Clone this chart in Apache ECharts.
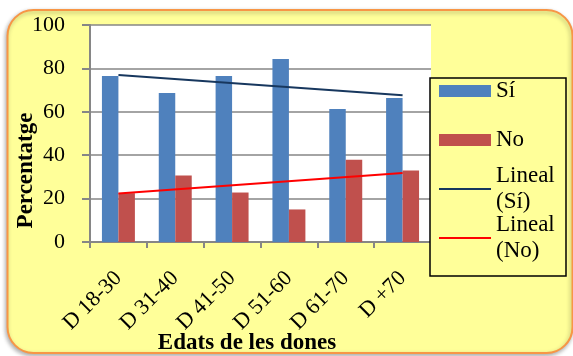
<!DOCTYPE html>
<html>
<head>
<meta charset="utf-8">
<script src="https://cdn.jsdelivr.net/npm/echarts@6/dist/echarts.min.js"></script>
<style>
html,body{margin:0;padding:0;background:#fff;}
#c{width:573px;height:356px;}
</style>
</head>
<body>
<div id="c"></div>
<script>
var categories = ['D 18-30', 'D 31-40', 'D 41-50', 'D 51-60', 'D 61-70', 'D +70'];
var siValues = [76.5, 68.7, 76.5, 84.3, 61.3, 66.4];
var noValues = [22.5, 30.6, 22.8, 15.0, 37.9, 32.9];
var trendSi = [77.0, null, null, null, null, 67.6];
var trendNo = [22.3, null, null, null, null, 31.8];
var yTicks = [0, 20, 40, 60, 80, 100];

var FONT = '"Liberation Serif", "Times New Roman", serif';
var LINE_ICON = 'path://M0,0 H52 V2 H0 Z';
var chart = echarts.init(document.getElementById('c'), null, {renderer: 'canvas'});
chart.setOption({
  animation: false,
  backgroundColor: '#ffffff',
  graphic: [
    {type: 'rect', z: -10, shape: {x: 7.5, y: 10, width: 565, height: 343, r: 26},
     style: {fill: '#FFFF99', stroke: '#F79646', lineWidth: 2,
             shadowBlur: 4, shadowOffsetX: -1, shadowOffsetY: 2, shadowColor: 'rgba(0,0,0,0.3)'}},
    {type: 'rect', z: 1, shape: {x: 430, y: 78, width: 136, height: 198},
     style: {fill: '#FFFF99', stroke: '#000', lineWidth: 1.5}}
  ],
  grid: {left: 90, top: 25, right: 142, bottom: 114, show: true, backgroundColor: '#ffffff',
         borderWidth: 0, containLabel: false, outerBoundsMode: 'none'},
  legend: {
    orient: 'vertical', left: 439, top: 52, padding: 0, itemGap: -29,
    itemWidth: 52, itemHeight: 12,
    textStyle: {fontFamily: FONT, fontSize: 23, lineHeight: 26, color: '#000'},
    formatter: function (n) { return n.replace(' (', '\n('); },
    data: [
      {name: 'Sí', icon: 'rect', textStyle: {padding: [26, 0, 26, 0]}},
      {name: 'No', icon: 'rect', textStyle: {padding: [26, 0, 26, 0]}},
      {name: 'Lineal (Sí)', icon: LINE_ICON, textStyle: {padding: [26, 0, 0, 0]}},
      {name: 'Lineal (No)', icon: LINE_ICON, textStyle: {padding: [26, 0, 0, 0]}}
    ]
  },
  xAxis: {
    type: 'category', data: categories,
    name: 'Edats de les dones', nameLocation: 'middle', nameGap: 90, nameMoveOverlap: false,
    nameTextStyle: {fontFamily: FONT, fontSize: 23, fontWeight: 'bold', color: '#000', padding: [0, 27, 0, 0]},
    axisLine: {lineStyle: {color: '#868686', width: 2}},
    axisTick: {show: true, length: 6, lineStyle: {color: '#868686', width: 2}},
    axisLabel: {rotate: 45, margin: 33, fontFamily: FONT, fontSize: 22, color: '#000'}
  },
  yAxis: {
    type: 'value', min: 0, max: 100, interval: 20,
    name: 'Percentatge', nameLocation: 'middle', nameRotate: 90, nameGap: 52, nameMoveOverlap: false,
    nameTextStyle: {fontFamily: FONT, fontSize: 23, fontWeight: 'bold', color: '#000', padding: [0, 74, 0, 0]},
    axisLine: {show: true, lineStyle: {color: '#868686', width: 2}},
    axisTick: {show: true, length: 8, lineStyle: {color: '#868686', width: 2}},
    axisLabel: {margin: 25, fontFamily: FONT, fontSize: 22, color: '#000',
      formatter: function (v) { return yTicks.indexOf(v) >= 0 ? String(v) : ''; }},
    splitLine: {show: true, lineStyle: {color: '#868686', width: 1.5}}
  },
  series: [
    {name: 'Sí', type: 'bar', data: siValues, barGap: '0%', barCategoryGap: '42%',
     itemStyle: {color: '#4F81BD'}},
    {name: 'No', type: 'bar', data: noValues, barGap: '0%', barCategoryGap: '42%',
     itemStyle: {color: '#C0504D'}},
    {name: 'Lineal (Sí)', type: 'line', data: trendSi, connectNulls: true, symbol: 'none',
     lineStyle: {color: '#17375E', width: 2}, itemStyle: {color: '#17375E'}, z: 5},
    {name: 'Lineal (No)', type: 'line', data: trendNo, connectNulls: true, symbol: 'none',
     lineStyle: {color: '#FF0000', width: 2}, itemStyle: {color: '#FF0000'}, z: 5}
  ]
});
</script>
</body>
</html>
